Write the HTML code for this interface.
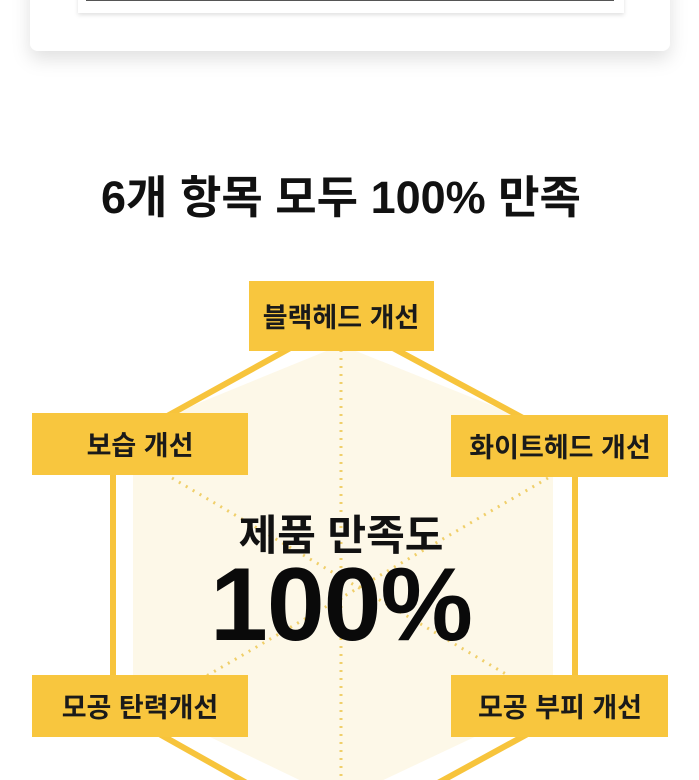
<!DOCTYPE html>
<html><head><meta charset="utf-8"><style>
html,body{margin:0;padding:0;background:#fff;overflow:hidden;}
svg{display:block;}
text{font-family:"Liberation Sans","Noto Sans CJK KR",sans-serif;font-weight:700;}
</style></head><body>
<svg width="699" height="780" viewBox="0 0 699 780" xmlns="http://www.w3.org/2000/svg">
<defs>
<filter id="sh" x="-10%" y="-50%" width="120%" height="200%"><feDropShadow dx="0" dy="8" stdDeviation="9" flood-color="#000" flood-opacity="0.12"/></filter>
<filter id="sh2" x="-10%" y="-50%" width="120%" height="200%"><feDropShadow dx="0" dy="2" stdDeviation="2" flood-color="#000" flood-opacity="0.12"/></filter>
</defs>
<rect x="30" y="-30" width="640" height="81" rx="8" fill="#fff" filter="url(#sh)"/>
<rect x="78" y="-20" width="546" height="33" fill="#fff" filter="url(#sh2)"/>
<line x1="86" y1="0" x2="614" y2="0" stroke="#555" stroke-width="2"/>

<text x="341" y="213" font-size="45" text-anchor="middle" fill="#111">6개 항목 모두 100% 만족</text>

<polygon points="341,345 553,430 553,700 341,800 133,700 133,430" fill="#fdf8e8"/>
<polygon points="341,320 575,446 575,708 341,836 113,708 113,446" fill="none" stroke="#f7c43c" stroke-width="6"/>
<g stroke="#f0cf6a" stroke-width="3" stroke-dasharray="2 6" fill="none">
<line x1="341" y1="350" x2="341" y2="780"/>
<line x1="172" y1="478" x2="550" y2="700"/>
<line x1="548" y1="478" x2="165" y2="700"/>
</g>

<g fill="#f8c63e">
<rect x="249" y="281" width="185" height="70"/>
<rect x="32" y="413" width="216" height="62"/>
<rect x="451" y="415" width="217" height="62"/>
<rect x="32" y="675" width="216" height="62"/>
<rect x="451" y="675" width="217" height="62"/>
</g>
<g font-size="27" fill="#1a1a1a" text-anchor="middle">
<text x="341" y="327">블랙헤드 개선</text>
<text x="140" y="455">보습 개선</text>
<text x="560" y="457">화이트헤드 개선</text>
<text x="140" y="717">모공 탄력개선</text>
<text x="560" y="717">모공 부피 개선</text>
</g>
<text x="341" y="550" font-size="42" text-anchor="middle" fill="#111">제품 만족도</text>
<text x="341" y="640" font-size="104" text-anchor="middle" fill="#0a0a0a" letter-spacing="-1">100%</text>
</svg>
</body></html>
